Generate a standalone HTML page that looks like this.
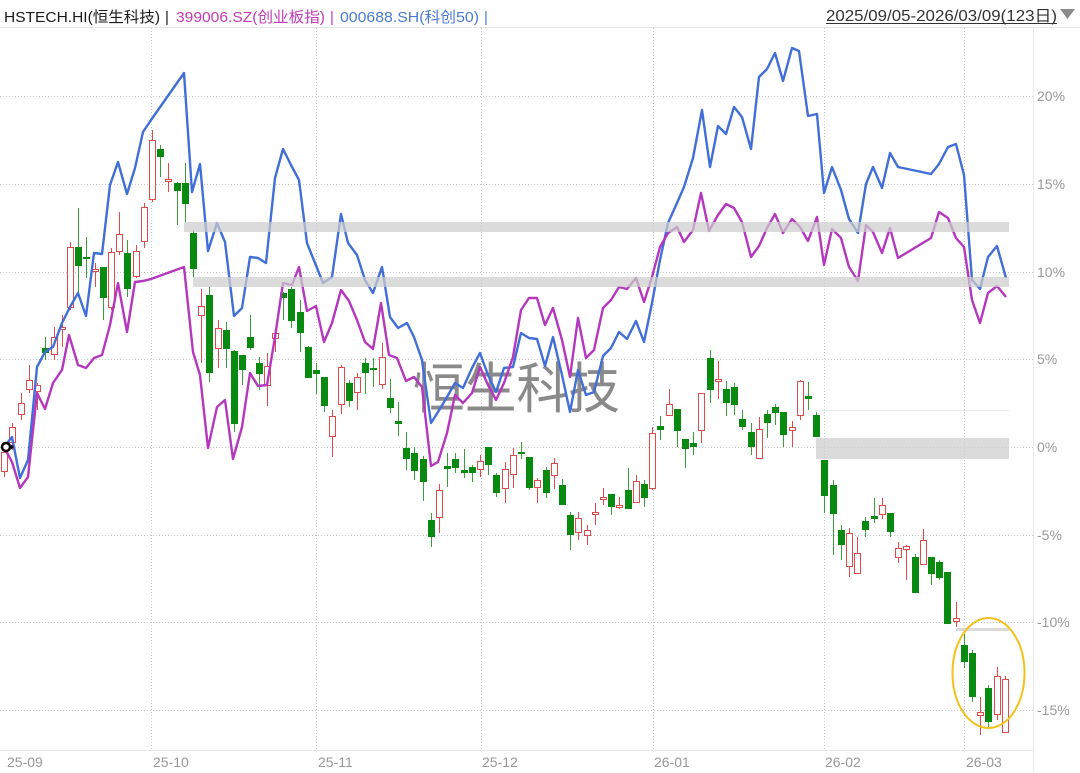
<!DOCTYPE html>
<html><head><meta charset="utf-8"><style>
html,body{margin:0;padding:0;background:#fff;}
svg{display:block;}
</style></head><body>
<svg width="1080" height="773" viewBox="0 0 1080 773" xmlns="http://www.w3.org/2000/svg">
<rect width="1080" height="773" fill="#fff"/>
<!-- header -->
<g font-family="Liberation Sans, Noto Sans CJK SC, sans-serif" font-size="15">
<text x="4" y="22" fill="#1a1a1a" textLength="156" lengthAdjust="spacingAndGlyphs">HSTECH.HI(恒生科技)</text>
<text x="165" y="22" fill="#1a1a1a">|</text>
<text x="176" y="22" fill="#c23bb5" textLength="149" lengthAdjust="spacingAndGlyphs">399006.SZ(创业板指)</text>
<text x="330" y="22" fill="#c23bb5">|</text>
<text x="340" y="22" fill="#4a7bd0" textLength="139" lengthAdjust="spacingAndGlyphs">000688.SH(科创50)</text>
<text x="484" y="22" fill="#4a7bd0">|</text>
<text x="826" y="21" fill="#333" font-size="15.5" textLength="231" lengthAdjust="spacingAndGlyphs">2025/09/05-2026/03/09(123日)</text>
</g>
<line x1="826" y1="23.5" x2="1057" y2="23.5" stroke="#333" stroke-width="1"/>
<path d="M1060 9H1075L1067.5 19Z" fill="#8a8a8a"/>
<!-- frame -->
<line x1="0" y1="27.5" x2="1080" y2="27.5" stroke="#e6e6e6"/>
<line x1="0" y1="750.5" x2="1033" y2="750.5" stroke="#e6e6e6"/>
<line x1="1033.5" y1="27" x2="1033.5" y2="773" stroke="#ebebeb"/>
<!-- grid -->
<g stroke="#c6c6c6" stroke-width="1" stroke-dasharray="1 2">
<line x1="0" y1="96.5" x2="1033" y2="96.5"/>
<line x1="0" y1="184.5" x2="1033" y2="184.5"/>
<line x1="0" y1="272.5" x2="1033" y2="272.5"/>
<line x1="0" y1="359.5" x2="1033" y2="359.5"/>
<line x1="0" y1="447.5" x2="1033" y2="447.5"/>
<line x1="0" y1="535.5" x2="1033" y2="535.5"/>
<line x1="0" y1="622.5" x2="1033" y2="622.5"/>
<line x1="0" y1="710.5" x2="1033" y2="710.5"/>
<line x1="151.5" y1="28" x2="151.5" y2="750"/>
<line x1="316.5" y1="28" x2="316.5" y2="750"/>
<line x1="481.5" y1="28" x2="481.5" y2="750"/>
<line x1="653.5" y1="28" x2="653.5" y2="750"/>
<line x1="824.5" y1="28" x2="824.5" y2="750"/>
<line x1="964.5" y1="28" x2="964.5" y2="750"/>
</g>
<!-- watermark -->
<text x="413" y="408" font-family="Noto Sans CJK SC, sans-serif" font-size="55" fill="#8a8a8a" textLength="207" lengthAdjust="spacingAndGlyphs">恒生科技</text>
<!-- candles: green -->
<path fill="none" stroke="#3a9e3a" stroke-width="1" d="M45.5 337V360M78.5 208V297M86.5 237V278M103.5 267V320M127.5 240V297M160.5 145V177M177.5 182V225M185.5 163V222M193.5 230V277M209.5 287V382M226.5 322V368M234.5 350V432M242.5 355V385M250.5 315V350M259.5 357V390M283.5 292V320M291.5 287V328M300.5 300V352M308.5 346V378M316.5 363V394M324.5 377V412M349.5 380V407M365.5 358V394M373.5 358V387M390.5 379V413M398.5 402V436M406.5 432V470M414.5 447V480M423.5 456V501M431.5 513V547M447.5 453V487M455.5 453V473M464.5 449V478M472.5 465V482M488.5 447V475M496.5 473V497M521.5 442V459M529.5 457V490M546.5 467V498M562.5 479V505M570.5 512V550M611.5 494V515M628.5 468V509M644.5 480V507M660.5 416V440M677.5 409V447M685.5 439V468M693.5 432V455M710.5 350V403M726.5 381V416M734.5 383V415M742.5 410V430M751.5 423V455M767.5 410V438M775.5 404V425M783.5 412V447M808.5 382V410M816.5 412V437M824.5 460V513M833.5 480V555M841.5 525V560M865.5 517V537M874.5 498V523M890.5 513V537M915.5 554V593M931.5 557V585M939.5 560V580M947.5 572V624M964.5 634V668M972.5 650V702M988.5 685V728"/>
<path fill="#08890f" d="M42 348h7v5h-7zM75 247h7v19h-7zM83 257h7v2h-7zM100 267h7v31h-7zM124 253h7v36h-7zM157 149h7v8h-7zM174 183h7v8h-7zM182 183h7v21h-7zM190 233h7v36h-7zM206 295h7v78h-7zM223 330h7v19h-7zM231 351h7v73h-7zM239 355h7v15h-7zM247 337h7v11h-7zM256 363h7v11h-7zM280 293h7v5h-7zM288 289h7v32h-7zM297 312h7v21h-7zM305 347h7v31h-7zM313 370h7v4h-7zM321 377h7v29h-7zM346 383h7v18h-7zM362 363h7v10h-7zM370 368h7v2h-7zM387 398h7v10h-7zM395 421h7v3h-7zM403 448h7v11h-7zM411 453h7v18h-7zM420 459h7v23h-7zM428 520h7v17h-7zM444 466h7v3h-7zM452 459h7v9h-7zM461 470h7v3h-7zM469 467h7v6h-7zM485 447h7v18h-7zM493 475h7v18h-7zM518 452h7v2h-7zM526 457h7v31h-7zM543 470h7v23h-7zM559 485h7v20h-7zM567 515h7v20h-7zM608 494h7v13h-7zM625 490h7v19h-7zM641 484h7v14h-7zM657 426h7v4h-7zM674 409h7v22h-7zM682 439h7v10h-7zM690 443h7v4h-7zM707 358h7v32h-7zM723 389h7v14h-7zM731 387h7v18h-7zM739 419h7v8h-7zM748 432h7v15h-7zM764 414h7v9h-7zM772 407h7v6h-7zM780 412h7v23h-7zM805 396h7v3h-7zM813 415h7v22h-7zM821 460h7v36h-7zM830 485h7v29h-7zM838 530h7v15h-7zM862 521h7v9h-7zM871 516h7v3h-7zM887 513h7v19h-7zM912 557h7v36h-7zM928 557h7v17h-7zM936 562h7v16h-7zM944 572h7v52h-7zM961 645h7v17h-7zM969 653h7v44h-7zM985 688h7v34h-7z"/>
<!-- candles: red -->
<path fill="none" stroke="#e04a4a" stroke-width="1" d="M4.5 445V477M12.5 423V450M21.5 393V420M29.5 365V393M37.5 383V410M54.5 327V360M62.5 315V347M70.5 242V310M95.5 263V287M111.5 248V310M119.5 212V255M136.5 245V278M144.5 203V248M152.5 130V202M168.5 163V192M201.5 289V363M218.5 320V368M267.5 353V406M275.5 332V352M332.5 410V457M341.5 365V414M357.5 373V410M382.5 343V389M439.5 484V533M480.5 455V477M505.5 462V503M513.5 448V488M537.5 478V503M554.5 458V489M578.5 512V540M587.5 525V545M595.5 503V525M603.5 488V505M619.5 497V509M636.5 475V503M652.5 427V490M669.5 389V416M701.5 393V443M718.5 361V399M759.5 417V459M792.5 421V447M800.5 380V420M849.5 528V577M857.5 537V574M882.5 498V519M898.5 542V563M906.5 545V580M923.5 529V565M956.5 602V627M980.5 697V735M997.5 667V720M1005.5 676V733"/>
<path fill="#fff" stroke="#e04a4a" stroke-width="1" d="M1.5 452.5h6v19h-6zM9.5 427.5h6v15h-6zM18.5 403.5h6v11h-6zM26.5 380.5h6v9h-6zM34.5 385.5h6v6h-6zM51.5 337.5h6v17h-6zM59.5 327.5h6v2h-6zM67.5 247.5h6v60h-6zM92.5 269.5h6v2h-6zM108.5 252.5h6v55h-6zM116.5 234.5h6v17h-6zM133.5 251.5h6v25h-6zM141.5 207.5h6v34h-6zM149.5 140.5h6v59h-6zM165.5 179.5h6v2h-6zM198.5 306.5h6v9h-6zM215.5 328.5h6v20h-6zM264.5 366.5h6v19h-6zM272.5 333.5h6v5h-6zM329.5 416.5h6v20h-6zM338.5 367.5h6v37h-6zM354.5 377.5h6v15h-6zM379.5 357.5h6v27h-6zM436.5 490.5h6v27h-6zM477.5 461.5h6v8h-6zM502.5 469.5h6v19h-6zM510.5 455.5h6v19h-6zM534.5 480.5h6v7h-6zM551.5 463.5h6v12h-6zM575.5 518.5h6v14h-6zM584.5 530.5h6v5h-6zM592.5 512.5h6v2h-6zM600.5 497.5h6v2h-6zM616.5 505.5h6v2h-6zM633.5 481.5h6v21h-6zM649.5 433.5h6v55h-6zM666.5 404.5h6v11h-6zM698.5 393.5h6v37h-6zM715.5 379.5h6v2h-6zM756.5 429.5h6v29h-6zM789.5 427.5h6v3h-6zM797.5 381.5h6v34h-6zM846.5 533.5h6v33h-6zM854.5 553.5h6v20h-6zM879.5 505.5h6v9h-6zM895.5 548.5h6v9h-6zM903.5 546.5h6v3h-6zM920.5 540.5h6v24h-6zM953.5 618.5h6v3h-6zM977.5 712.5h6v3h-6zM994.5 676.5h6v38h-6zM1002.5 679.5h6v53h-6z"/>
<!-- lines -->
<polyline fill="none" stroke="#416ed7" stroke-width="2.4" stroke-linejoin="round" points="4,447 12,437 20,478 28,460 37,367 45,352 53,347 62,323 70,307 78,293 86,316 94,253 102,254 110,185 118,162 127,194 135,168 143,132 151,120 184,73 192,192 200,164 208,251 217,223 225,242 234,316 242,308 250,257 258,258 266,263 275,178 283,149 291,165 299,180 307,243 315,263 323,283 332,277 341,214 348,243 357,255 365,280 373,293 382,267 390,317 398,328 407,323 414,337 422,360 431,423 438,412 447,397 455,383 463,388 472,368 480,353 488,375 496,392 504,368 513,367 521,333 529,338 537,339 545,366 553,337 562,375 570,412 578,370 586,395 594,392 603,356 611,348 619,332 627,339 636,321 644,342 652,303 660,260 668,223 677,203 684,187 693,158 702,110 710,167 718,126 726,134 734,107 742,117 751,149 759,77 767,69 775,53 783,81 792,48 799,51 808,116 817,114 824,193 832,167 841,190 849,219 858,233 866,184 873,167 882,188 890,153 898,167 931,174 939,164 948,147 956,144 964,175 972,280 980,289 988,257 997,246 1006,278"/>
<polyline fill="none" stroke="#b437be" stroke-width="2.4" stroke-linejoin="round" points="4,447 12,462 20,488 28,477 37,393 45,409 53,383 62,370 69,335 78,365 86,368 94,358 102,355 110,325 118,283 127,332 135,282 143,281 151,279 184,267 193,352 200,375 208,448 217,407 225,400 233,459 242,427 250,373 258,386 267,385 275,337 283,283 292,285 299,267 307,311 316,306 324,342 332,323 341,290 349,301 357,320 365,342 373,349 381,303 389,355 397,358 406,381 414,377 422,387 431,466 438,462 447,433 455,395 463,403 472,393 480,367 488,385 496,400 504,383 513,357 521,310 529,298 537,298 545,325 553,308 562,340 570,377 578,318 586,358 594,350 603,308 611,300 619,287 627,289 636,278 644,302 652,277 660,247 668,233 677,227 684,242 693,230 701,193 709,231 718,215 726,204 734,208 742,222 751,257 759,246 767,228 775,214 783,233 792,219 800,227 808,241 817,217 824,265 832,229 841,238 849,267 858,281 866,225 873,232 882,253 890,228 898,258 931,238 939,212 948,218 956,238 964,247 972,300 980,323 988,293 997,286 1006,297"/>
<!-- bands -->
<g fill="#cdcdcd" fill-opacity="0.72">
<rect x="184" y="222" width="825" height="10"/>
<rect x="193" y="277" width="816" height="10"/>
<rect x="816" y="438" width="193" height="21"/>
</g>
<rect x="816" y="410" width="193" height="1" fill="#ececec"/>
<rect x="956" y="628" width="53" height="3" fill="#dadada"/>
<!-- marker -->
<circle cx="6" cy="447" r="4" fill="#fff" stroke="#000" stroke-width="2.5"/>
<path d="M11 444.5L14 447L11 449.5Z" fill="#000"/>
<!-- highlight ellipse -->
<ellipse cx="988.5" cy="673" rx="36" ry="55" fill="none" stroke="#f2c21b" stroke-width="2"/>
<!-- y labels -->
<g font-family="Liberation Sans, sans-serif" font-size="14" fill="#999">
<text x="1037" y="101">20%</text>
<text x="1037" y="189">15%</text>
<text x="1037" y="277">10%</text>
<text x="1037" y="364">5%</text>
<text x="1037" y="452">0%</text>
<text x="1037" y="540">-5%</text>
<text x="1037" y="627">-10%</text>
<text x="1037" y="715">-15%</text>
</g>
<!-- x labels -->
<g font-family="Liberation Sans, sans-serif" font-size="14" fill="#999">
<text x="7" y="767">25-09</text>
<text x="153" y="767">25-10</text>
<text x="318" y="767">25-11</text>
<text x="482" y="767">25-12</text>
<text x="654" y="767">26-01</text>
<text x="825" y="767">26-02</text>
<text x="966" y="767">26-03</text>
</g>
</svg>
</body></html>
